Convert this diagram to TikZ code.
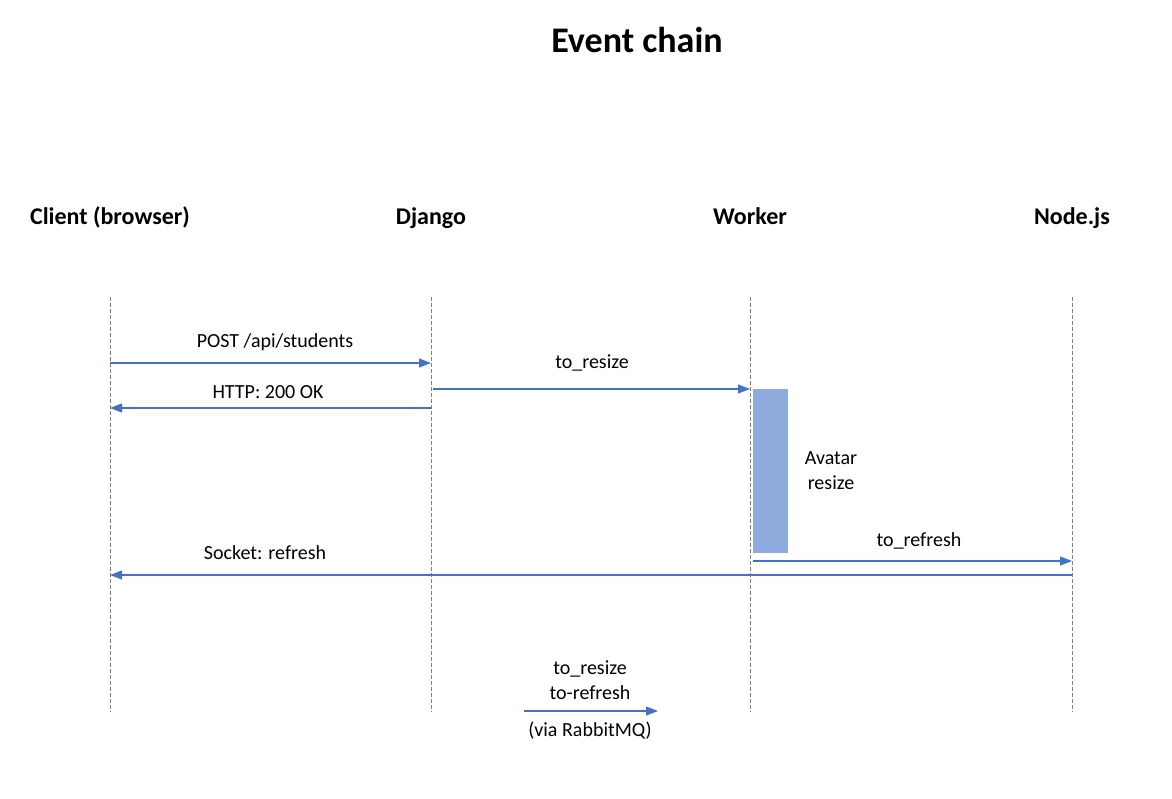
\documentclass[tikz,border=0pt]{standalone}
\usepackage{fontspec}
\setmainfont{Carlito}
\usepackage{tikz}
\usetikzlibrary{positioning,calc,arrows.meta}
\definecolor{msgblue}{HTML}{4472C4}
\definecolor{actblue}{HTML}{8FAADC}
\tikzset{
	lifeline/.style={gray,dash pattern=on 4pt off 2pt,line width=0.8pt},
	msg/.style={msgblue,line width=1.2pt,-{Triangle[length=12pt,width=9pt]}},
	lbl/.style={font=\fontsize{20}{24}\selectfont,inner sep=0pt},
	head/.style={font=\fontsize{24}{28}\selectfont\bfseries,inner sep=0pt,anchor=base}
}
\begin{document}
\begin{tikzpicture}[x=1pt,y=-1pt]
	\def\xC{110};
	\def\xD{431};
	\def\xW{750};
	\def\xN{1072};
	\def\yTop{297};
	\def\yBot{712};
\useasboundingbox (0,0) rectangle (1172,799);

%Titre
\node[font=\fontsize{36}{40}\selectfont\bfseries,inner sep=0pt,anchor=base] (title) at (637,53) {Event chain};

%Acteurs
\node[head] (client) at (\xC,225) {Client (browser)};
\node[head] (django) at (\xD,225) {Django};
\node[head] (worker) at (\xW,225) {Worker};
\node[head] (nodejs) at (\xN,225) {Node.js};

%Lignes de vie
\draw[lifeline] (\xC,\yTop) -- (\xC,\yBot);
\draw[lifeline] (\xD,\yTop) -- (\xD,\yBot);
\draw[lifeline] (\xW,\yTop) -- (\xW,\yBot);
\draw[lifeline] (\xN,\yTop) -- (\xN,\yBot);

%Points des messages
\coordinate (C1) at (\xC,363);
\coordinate (D1) at (\xD,363);
\coordinate (D2) at (\xD+2,389);
\coordinate (W2) at (\xW,389);
\coordinate (D3) at (\xD,408);
\coordinate (C3) at (\xC,408);
\coordinate (W4) at (\xW+3,561);
\coordinate (N4) at (\xN,561);
\coordinate (N5) at (\xN,575);
\coordinate (C5) at (\xC,575);

%Activation
\fill[actblue] (753,389) rectangle (788,553);
\node[lbl,align=center] (resize) at (831,471) {Avatar\\[1pt]resize};

%Messages
\draw[msg] (C1) -- (D1);
\node[lbl] (post) at (275,342) {POST /api/students};

\draw[msg] (D2) -- (W2);
\node[lbl] (toresize) at (592,363) {to\_resize};

\draw[msg] (D3) -- (C3);
\node[lbl] (http) at (268,392) {HTTP: 200 OK};

\draw[msg] (W4) -- (N4);
\node[lbl] (torefresh) at (919,541) {to\_refresh};

\draw[msg] (N5) -- (C5);
\node[lbl] (socket) at (265,553) {Socket: refresh};

%Legende
\coordinate (L1) at (524,711);
\coordinate (L2) at (658,711);
\draw[msg] (L1) -- (L2);
\node[lbl,align=center] (legend) at (590,680) {to\_resize\\[1pt]to-refresh};
\node[lbl] (rabbit) at (590,731) {(via RabbitMQ)};

\end{tikzpicture}
\end{document}
